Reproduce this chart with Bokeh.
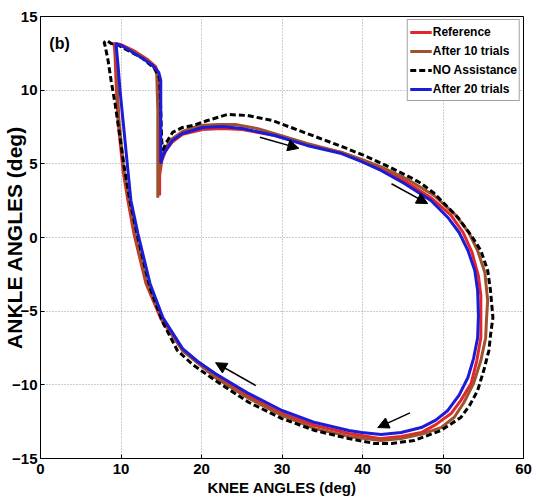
from bokeh.plotting import figure
from bokeh.models import Legend, LegendItem, Arrow, NormalHead, Label, FixedTicker
from bokeh.embed import file_html
from bokeh.resources import INLINE

# Knee / ankle angle loops (deg), one gait cycle each, traced in loop order
ref_knee = [14.8, 14.8, 15.06, 15.56, 16.4, 17.65, 20.1, 22.6, 25.06, 29.1, 33.1, 37.4,
            39.9, 42.3, 45.2, 48.5, 51.0, 52.5, 53.6, 54.4, 54.7, 54.7, 54.2, 53.5, 52.2, 51.0,
            49.1, 47.3, 44.8, 42.3, 38.3, 34.1, 30.0, 25.9, 21.7, 17.65, 14.94, 13.1, 11.6,
            10.86, 10.25, 9.63, 9.38, 9.26, 9.14, 10.0, 11.5, 13.3, 14.3, 14.7, 14.7, 14.7]
ref_ankle = [2.85, 4.2, 5.2, 5.9, 6.5, 7.0, 7.33, 7.4, 7.33, 6.92, 6.3, 5.77,
             5.25, 4.7, 3.85, 2.7, 1.5, 0.34, -1.0, -2.6, -3.94, -6.8, -8.35, -9.9, -11.07, -11.95,
             -12.7, -13.24, -13.5, -13.65, -13.3, -12.76, -11.95, -10.8, -9.37, -7.67, -5.5, -3.12, 0.27,
             2.51, 4.55, 7.94, 10.66, 12.36, 13.17, 13.1, 12.7, 12.08, 11.6, 11.0, 8.6, 2.85]

t10_knee = [14.57, 14.7, 14.94, 15.43, 16.4, 17.65, 19.75, 22.0, 24.2, 26.9, 29.4, 33.1, 37.4,
            39.9, 42.3, 45.4, 48.9, 51.6, 53.2, 54.3, 55.2, 55.55, 55.4, 55.3, 54.7, 53.8, 52.6, 51.4,
            49.75, 47.65, 44.8, 42.3, 38.3, 34.1, 30.0, 25.9, 21.7, 17.65, 15.06, 13.2, 11.73,
            11.0, 10.37, 9.75, 9.5, 9.38, 9.26, 10.0, 11.5, 13.1, 13.95, 14.44, 14.57, 14.57]
t10_ankle = [2.7, 4.2, 5.2, 6.04, 6.72, 7.2, 7.6, 7.67, 7.67, 7.4, 7.0, 6.38, 5.77,
             5.3, 4.8, 4.0, 2.85, 1.5, 0.34, -0.88, -2.38, -4.28, -5.6, -6.8, -8.35, -9.9, -11.2, -12.2,
             -12.9, -13.3, -13.65, -13.78, -13.5, -12.97, -12.08, -10.93, -9.5, -7.67, -5.5, -3.12, 0.27,
             2.51, 4.55, 7.94, 10.66, 12.36, 13.17, 13.03, 12.63, 12.08, 11.68, 11.13, 8.6, 2.7]

noa_knee = [15.2, 15.56, 16.4, 17.65, 18.9, 20.74, 23.2, 25.7, 28.8, 33.1, 37.4, 40.5, 42.7,
            46.05, 47.3, 48.9, 51.85, 53.5, 54.7, 55.55, 55.9, 56.2, 55.9, 55.7, 55.06, 54.3, 53.3,
            52.2, 49.75, 46.4, 43.6, 41.5, 38.3, 34.1, 30.0, 25.9, 21.7, 18.9, 17.0, 15.2, 13.6,
            12.1, 11.1, 10.37, 9.75, 9.26, 8.77, 8.4, 8.02, 7.9, 8.27, 8.77, 9.5, 10.86, 12.7,
            14.2, 14.8, 14.94, 15.06, 15.2]
noa_ankle = [5.9, 6.38, 7.13, 7.47, 7.6, 7.94, 8.35, 8.28, 7.94, 7.06, 6.18, 5.5, 4.95,
             4.05, 3.67, 3.0, 1.36, 0.14, -0.88, -2.24, -3.6, -5.43, -6.65, -7.67, -9.03, -10.39, -11.4,
             -12.22, -13.1, -13.78, -13.98, -13.98, -13.65, -13.1, -12.29, -11.2, -9.7, -8.62, -7.67, -5.77, -3.4,
             0.0, 2.51, 4.89, 7.26, 9.1, 10.66, 12.0, 13.03, 13.24, 13.37, 13.17, 13.1, 12.7, 12.15,
             11.47, 10.8, 8.6, 6.58, 5.9]

t20_knee = [14.94, 15.2, 15.56, 16.4, 17.65, 20.1, 22.6, 25.06, 29.1, 33.1, 37.4, 39.9, 42.3,
            45.2, 48.5, 50.6, 52.0, 53.1, 53.95, 54.3, 54.4, 54.3, 53.8, 53.1, 52.0, 50.6, 49.1,
            47.3, 44.8, 42.3, 39.9, 38.3, 34.1, 30.0, 25.9, 21.7, 19.5, 17.65, 15.2, 13.6, 12.1,
            11.23, 10.86, 10.25, 9.88, 9.63, 9.38, 9.63, 10.25, 11.5, 12.7, 13.95, 14.7, 14.94,
            14.94, 14.94]
t20_ankle = [5.02, 5.57, 5.9, 6.6, 7.06, 7.47, 7.54, 7.4, 6.92, 6.25, 5.7, 5.15, 4.55,
             3.67, 2.51, 1.36, 0.34, -0.88, -2.24, -3.6, -5.3, -6.8, -8.2, -9.5, -10.7, -11.74, -12.4,
             -12.9, -13.24, -13.37, -13.24, -13.1, -12.56, -11.74, -10.6, -9.23, -8.4, -7.54, -5.43, -3.12, 0.27,
             2.51, 4.55, 7.94, 10.0, 11.7, 13.17, 13.1, 12.97, 12.56, 12.15, 11.68, 11.2, 10.66,
             7.94, 5.02]

series_names = ["Reference", "After 10 trials", "NO Assistance", "After 20 trials"]

# direction-of-travel arrows: (knee_start, ankle_start, knee_end, ankle_end)
arrows = [(27.25, 6.8, 32.1, 6.05),
          (43.6, 3.65, 48.1, 2.3),
          (45.9, -11.9, 41.9, -12.9),
          (26.75, -10.05, 21.75, -8.5)]

x_ticks = [0, 10, 20, 30, 40, 50, 60]
y_ticks = [-15, -10, -5, 0, 5, 10, 15]

FONT = "Liberation Sans"

p = figure(width=538, height=500, x_range=(0, 60), y_range=(-15, 15),
           output_backend="svg", toolbar_location=None,
           min_border_left=37, min_border_right=15,
           min_border_top=16, min_border_bottom=42)
p.background_fill_color = "white"
p.border_fill_color = "white"
p.outline_line_color = "black"
p.outline_line_width = 1

for ax, ticks in ((p.xaxis[0], x_ticks), (p.yaxis[0], y_ticks)):
    ax.ticker = FixedTicker(ticks=ticks)
    ax.major_tick_in = 4
    ax.major_tick_out = 0
    ax.minor_tick_line_color = None
    ax.axis_line_color = "black"
    ax.major_label_text_font = FONT
    ax.major_label_text_font_style = "bold"
    ax.major_label_text_font_size = "15px"
    ax.major_label_text_color = "black"
    ax.major_label_standoff = 3

p.xaxis.major_label_standoff = 5
p.xaxis.axis_label = "KNEE ANGLES (deg)"
p.xaxis.axis_label_text_font = FONT
p.xaxis.axis_label_text_font_style = "bold"
p.xaxis.axis_label_text_font_size = "15px"
p.xaxis.axis_label_text_color = "black"
p.xaxis.axis_label_standoff = 2

# y title tucked in close to the tick labels
p.yaxis.axis_label = "ANKLE ANGLES (deg)"
p.yaxis.axis_label_text_font = FONT
p.yaxis.axis_label_text_font_style = "bold"
p.yaxis.axis_label_text_font_size = "21px"
p.yaxis.axis_label_text_color = "black"
p.yaxis.axis_label_standoff = -17

p.xgrid.ticker = FixedTicker(ticks=x_ticks)
p.ygrid.ticker = FixedTicker(ticks=y_ticks)
for g in (p.xgrid, p.ygrid):
    g.grid_line_color = "#9a9a9a"
    g.grid_line_dash = "1 2"
    g.grid_line_width = 1

r_ref = p.line(ref_knee, ref_ankle, line_color="#e3262b", line_width=3)
r_t10 = p.line(t10_knee, t10_ankle, line_color="#a0522d", line_width=3)
r_noa = p.line(noa_knee, noa_ankle, line_color="black", line_width=3, line_dash="6 3")
r_t20 = p.line(t20_knee, t20_ankle, line_color="#1c1cd6", line_width=3)

for xs, ys, xe, ye in arrows:
    p.add_layout(Arrow(end=NormalHead(size=11, fill_color="black", line_color="black"),
                       x_start=xs, y_start=ys, x_end=xe, y_end=ye,
                       line_color="black", line_width=1.5))

p.add_layout(Label(x=1.1, y=13.14, text="(b)", text_align="left", text_baseline="middle",
                   text_font=FONT, text_font_style="bold",
                   text_font_size="16px", text_color="black"))

legend = Legend(items=[LegendItem(label=n, renderers=[r]) for n, r in
                       zip(series_names, [r_ref, r_t10, r_noa, r_t20])],
                location="top_right", margin=3, padding=2, spacing=0,
                glyph_width=22, glyph_height=14, label_height=19, label_standoff=1,
                label_text_font=FONT, label_text_font_style="bold",
                label_text_font_size="12px", label_text_color="black",
                border_line_color="#444444", border_line_width=1,
                background_fill_color="white", background_fill_alpha=1)
p.add_layout(legend)

open("out.html", "w").write(file_html(p, INLINE))
